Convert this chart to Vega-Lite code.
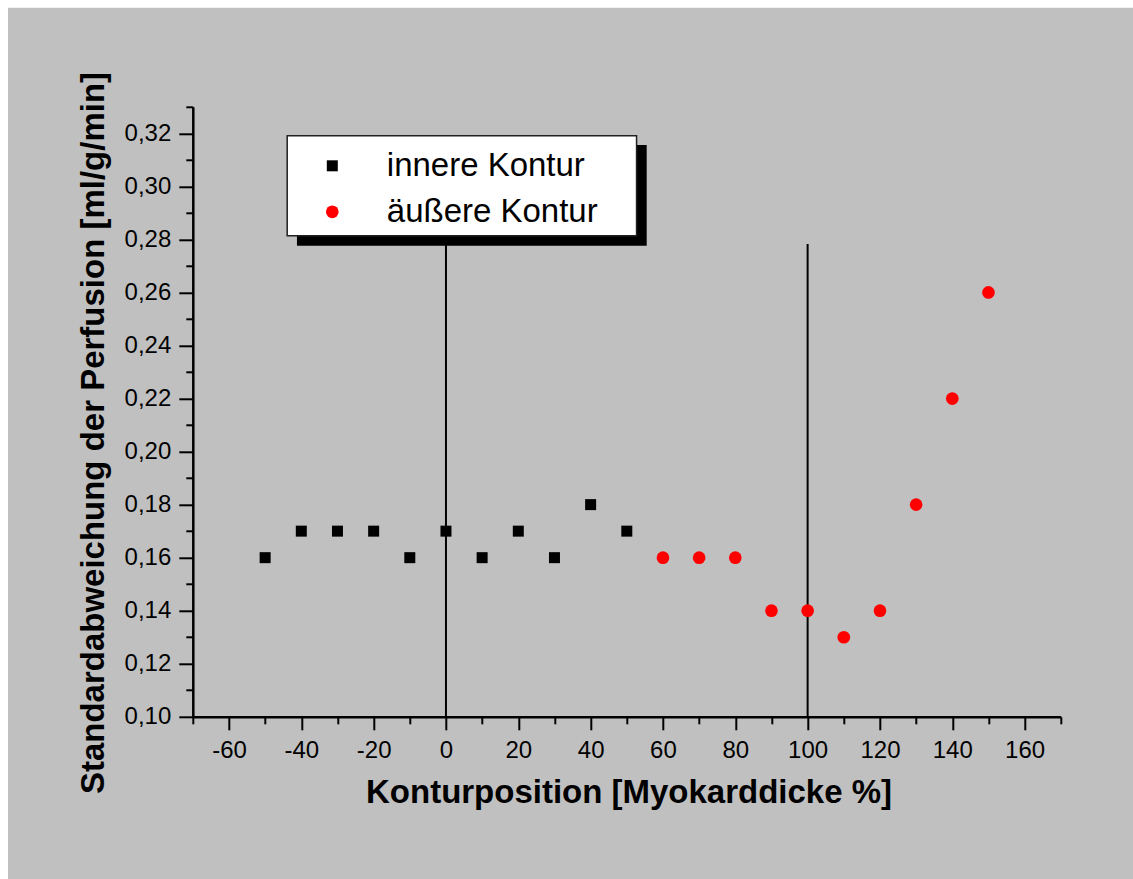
{
  "$schema": "https://vega.github.io/schema/vega-lite/v6.json",
  "width": 868,
  "height": 610,
  "autosize": {"type": "none"},
  "padding": {"left": 192.8, "top": 106.8, "right": 72.2, "bottom": 162.3},
  "background": "white",
  "config": {
    "view": {"stroke": null},
    "font": "Liberation Sans",
    "axis": {
      "grid": false,
      "domainColor": "black",
      "tickColor": "black",
      "labelColor": "black",
      "titleColor": "black",
      "domainWidth": 2.5,
      "tickWidth": 2,
      "labelFont": "Liberation Sans",
      "titleFont": "Liberation Sans"
    }
  },
  "datasets": {
    "points": [
      {"pos": -50, "sd": 0.16, "series": "innere Kontur"},
      {"pos": -40, "sd": 0.17, "series": "innere Kontur"},
      {"pos": -30, "sd": 0.17, "series": "innere Kontur"},
      {"pos": -20, "sd": 0.17, "series": "innere Kontur"},
      {"pos": -10, "sd": 0.16, "series": "innere Kontur"},
      {"pos": 0, "sd": 0.17, "series": "innere Kontur"},
      {"pos": 10, "sd": 0.16, "series": "innere Kontur"},
      {"pos": 20, "sd": 0.17, "series": "innere Kontur"},
      {"pos": 30, "sd": 0.16, "series": "innere Kontur"},
      {"pos": 40, "sd": 0.18, "series": "innere Kontur"},
      {"pos": 50, "sd": 0.17, "series": "innere Kontur"},
      {"pos": 60, "sd": 0.16, "series": "äußere Kontur"},
      {"pos": 70, "sd": 0.16, "series": "äußere Kontur"},
      {"pos": 80, "sd": 0.16, "series": "äußere Kontur"},
      {"pos": 90, "sd": 0.14, "series": "äußere Kontur"},
      {"pos": 100, "sd": 0.14, "series": "äußere Kontur"},
      {"pos": 110, "sd": 0.13, "series": "äußere Kontur"},
      {"pos": 120, "sd": 0.14, "series": "äußere Kontur"},
      {"pos": 130, "sd": 0.18, "series": "äußere Kontur"},
      {"pos": 140, "sd": 0.22, "series": "äußere Kontur"},
      {"pos": 150, "sd": 0.26, "series": "äußere Kontur"}
    ],
    "lines": [{"pos": 0}, {"pos": 100}],
    "one": [{}]
  },
  "layer": [
    {
      "data": {"name": "one"},
      "mark": {"type": "rect", "fill": "#c0c0c0"},
      "encoding": {
        "x": {"datum": -121.1, "type": "quantitative", "scale": {"domain": [-70, 170], "nice": false, "zero": false}, "axis": null},
        "x2": {"datum": 190},
        "y": {"datum": 0.3673, "type": "quantitative", "scale": {"domain": [0.1, 0.33], "nice": false, "zero": false}, "axis": null},
        "y2": {"datum": 0.0388}
      }
    },
    {
      "data": {"name": "lines"},
      "mark": {"type": "rule", "color": "black", "strokeWidth": 2},
      "encoding": {
        "x": {
          "field": "pos", "type": "quantitative",
          "scale": {"domain": [-70, 170], "nice": false, "zero": false},
          "axis": {"orient": "bottom", "zindex": 2, "values": [-70, -50, -30, -10, 10, 30, 50, 70, 90, 110, 130, 150, 170], "labels": false, "domain": false, "tickSize": 7, "title": null}
        },
        "y": {
          "datum": 0.1, "type": "quantitative",
          "scale": {"domain": [0.1, 0.33], "nice": false, "zero": false},
          "axis": {"orient": "left", "zindex": 2, "values": [0.11, 0.13, 0.15, 0.17, 0.19, 0.21, 0.23, 0.25, 0.27, 0.29, 0.31, 0.33], "labels": false, "domain": false, "tickSize": 7, "title": null}
        },
        "y2": {"datum": 0.2783}
      }
    },
    {
      "data": {"name": "one"},
      "mark": {"type": "rect", "fill": "black"},
      "encoding": {
        "x": {"datum": -41.2, "type": "quantitative", "scale": {"domain": [-70, 170], "nice": false, "zero": false}, "axis": null},
        "x2": {"datum": 55.5},
        "y": {"datum": 0.3156, "type": "quantitative", "scale": {"domain": [0.1, 0.33], "nice": false, "zero": false}, "axis": null},
        "y2": {"datum": 0.2776}
      }
    },
    {
      "data": {"name": "one"},
      "mark": {"type": "rect", "fill": "white", "stroke": "#202020", "strokeWidth": 1.5},
      "encoding": {
        "x": {"datum": -43.9, "type": "quantitative", "scale": {"domain": [-70, 170], "nice": false, "zero": false}, "axis": null},
        "x2": {"datum": 52.7},
        "y": {"datum": 0.3191, "type": "quantitative", "scale": {"domain": [0.1, 0.33], "nice": false, "zero": false}, "axis": null},
        "y2": {"datum": 0.2814}
      }
    },
    {
      "data": {"name": "points"},
      "mark": {"type": "point", "filled": true, "strokeWidth": 0, "opacity": 1},
      "encoding": {
        "x": {
          "field": "pos", "type": "quantitative",
          "scale": {"domain": [-70, 170], "nice": false, "zero": false},
          "axis": {
            "orient": "bottom", "zindex": 2,
            "values": [-60, -40, -20, 0, 20, 40, 60, 80, 100, 120, 140, 160],
            "tickSize": 13, "labelPadding": 9, "labelFontSize": 24,
            "labelExpr": "'' + datum.value",
            "title": "Konturposition [Myokarddicke %]",
            "titleFontSize": 33, "titleFontWeight": "bold",
            "titleX": 435.7, "titleY": 85.3, "titleBaseline": "alphabetic", "titleAlign": "center"
          }
        },
        "y": {
          "field": "sd", "type": "quantitative",
          "scale": {"domain": [0.1, 0.33], "nice": false, "zero": false},
          "axis": {
            "orient": "left", "zindex": 2,
            "values": [0.1, 0.12, 0.14, 0.16, 0.18, 0.2, 0.22, 0.24, 0.26, 0.28, 0.3, 0.32],
            "tickSize": 14, "labelPadding": 8, "labelFontSize": 24,
            "labelExpr": "replace(format(datum.value, '.2f'), '.', ',')",
            "title": "Standardabweichung der Perfusion [ml/g/min]",
            "titleFontSize": 33, "titleFontWeight": "bold", "titleAngle": 270,
            "titleX": -89.8, "titleY": 325.7, "titleBaseline": "alphabetic", "titleAlign": "center"
          }
        },
        "color": {
          "field": "series", "type": "nominal",
          "scale": {"domain": ["innere Kontur", "äußere Kontur"], "range": ["black", "#ff0000"]},
          "legend": {
            "orient": "none", "legendX": 123, "legendY": 42.5, "padding": 0, "title": null,
            "labelFontSize": 33, "labelFont": "Liberation Sans", "labelColor": "black",
            "labelLimit": 400, "symbolStrokeWidth": 0,
            "labelOffset": 38, "rowPadding": 12, "symbolOffset": 0, "symbolOpacity": 1
          }
        },
        "shape": {
          "field": "series", "type": "nominal",
          "scale": {"domain": ["innere Kontur", "äußere Kontur"], "range": ["square", "circle"]}
        },
        "size": {
          "field": "series", "type": "nominal",
          "scale": {"domain": ["innere Kontur", "äußere Kontur"], "range": [121, 161]}
        }
      }
    }
  ],
  "resolve": {"axis": {"x": "independent", "y": "independent"}}
}
